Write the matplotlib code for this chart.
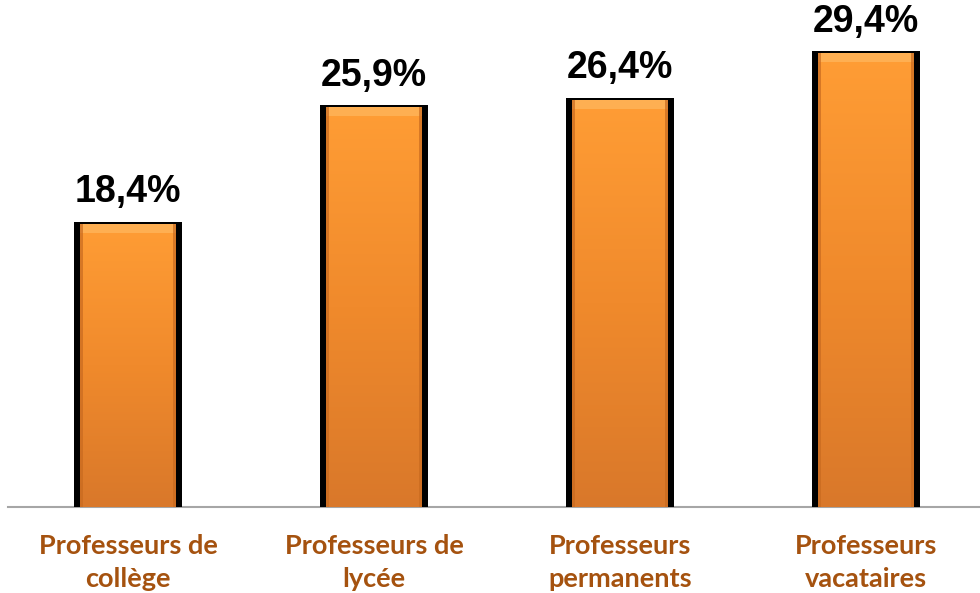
import numpy as np
import matplotlib.pyplot as plt
from matplotlib.patches import Rectangle

categories = ["Professeurs de\ncollège", "Professeurs de\nlycée",
              "Professeurs\npermanents", "Professeurs\nvacataires"]
values = [18.4, 25.9, 26.4, 29.4]
labels = ["18,4%", "25,9%", "26,4%", "29,4%"]

fig = plt.figure(figsize=(9.8, 5.93), dpi=100)
ax = fig.add_axes([0, 0, 1, 1])
ax.set_xlim(-0.52, 3.463)
ax.set_ylim(-5.55, 32.7)
ax.axis("off")

# baseline
ax.plot([-0.488, 3.463], [0, 0], color="#a6a6a6", lw=1.5, zorder=1)

# vertical orange gradient
grad = np.linspace(0, 1, 256).reshape(-1, 1)
cmap = plt.matplotlib.colors.LinearSegmentedColormap.from_list(
    "orange", ["#d9782a", "#f08a2c", "#ff9d35"])

w = 0.44
for i, v in enumerate(values):
    # black shadow
    ax.add_patch(Rectangle((i - w / 2, 0), w, v, facecolor="black",
                           edgecolor="none", zorder=2))
    iw = w - 0.05
    x0 = i - iw / 2
    im = ax.imshow(grad, cmap=cmap, extent=(x0, x0 + iw, 0, v - 0.12),
                   origin="lower", aspect="auto", zorder=3)
    clip = Rectangle((x0, 0), iw, v - 0.12, transform=ax.transData)
    im.set_clip_path(clip)
    # bevel highlights
    ax.add_patch(Rectangle((x0, v - 0.7), iw, 0.58, facecolor="#ffb55a",
                           edgecolor="none", alpha=0.8, zorder=4))
    ax.add_patch(Rectangle((x0, 0), 0.012, v - 0.12, facecolor="#c86a20",
                           edgecolor="none", alpha=0.7, zorder=4))
    ax.add_patch(Rectangle((x0 + iw - 0.012, 0), 0.012, v - 0.12,
                           facecolor="#c86a20", edgecolor="none", alpha=0.7, zorder=4))
    ax.text(i, v + 0.75, labels[i], ha="center", va="bottom", fontsize=27,
            fontweight="bold", family="Liberation Sans", color="black")
    ax.text(i, -1.75, categories[i], ha="center", va="top", fontsize=19.5,
            fontweight="bold", family="Lato", color="#a5520f", linespacing=1.45)

fig.savefig("out.png", dpi=100)
